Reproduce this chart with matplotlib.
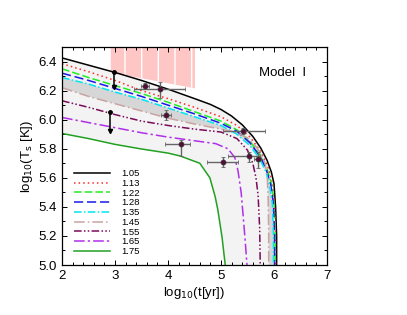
import numpy as np
import matplotlib
matplotlib.use('Agg')
import matplotlib.pyplot as plt
from matplotlib.ticker import MultipleLocator

plt.rcParams['font.family'] = ['Liberation Sans', 'DejaVu Sans']

# cooling curves, log10(t[yr]) vs log10(Ts[K])
labels = ['1.05', '1.13', '1.22', '1.28', '1.35', '1.45', '1.55', '1.65', '1.75']

t_105 = [2.0, 2.5, 3.0, 3.5, 4.0, 4.5, 4.8, 5.0, 5.2, 5.4, 5.6, 5.75, 5.87, 5.95, 6.0, 6.03, 6.05, 6.05]
T_105 = [6.425, 6.375, 6.325, 6.27, 6.21, 6.145, 6.105, 6.07, 6.025, 5.965, 5.885, 5.805, 5.72, 5.64, 5.56, 5.40, 5.20, 5.00]

t_113 = [2.0, 2.5, 3.0, 3.5, 4.0, 4.5, 5.0, 5.3, 5.55, 5.75, 5.88, 5.96, 6.01, 6.03, 6.03]
T_113 = [6.385, 6.33, 6.27, 6.20, 6.145, 6.085, 6.02, 5.96, 5.88, 5.78, 5.68, 5.58, 5.42, 5.20, 5.00]

t_122 = [2.0, 2.5, 3.0, 3.5, 4.0, 4.5, 5.0, 5.3, 5.55, 5.75, 5.87, 5.95, 6.0, 6.02, 6.02]
T_122 = [6.35, 6.29, 6.235, 6.18, 6.12, 6.055, 5.99, 5.93, 5.85, 5.75, 5.66, 5.56, 5.42, 5.20, 5.00]

t_128 = [2.0, 2.5, 3.0, 3.5, 4.0, 4.5, 5.0, 5.3, 5.55, 5.75, 5.86, 5.94, 5.99, 6.01, 6.01]
T_128 = [6.32, 6.27, 6.215, 6.16, 6.10, 6.04, 5.975, 5.92, 5.84, 5.74, 5.65, 5.55, 5.42, 5.20, 5.00]

t_135 = [2.0, 2.5, 3.0, 3.5, 4.0, 4.5, 5.0, 5.3, 5.55, 5.73, 5.85, 5.92, 5.97, 5.99, 5.99]
T_135 = [6.29, 6.245, 6.19, 6.14, 6.08, 6.02, 5.96, 5.90, 5.82, 5.73, 5.64, 5.54, 5.42, 5.20, 5.00]

t_145 = [2.0, 2.5, 3.0, 3.5, 4.0, 4.5, 5.0, 5.3, 5.5, 5.65, 5.75, 5.83, 5.87, 5.89, 5.9, 5.9]
T_145 = [6.22, 6.16, 6.11, 6.06, 6.01, 5.97, 5.935, 5.91, 5.875, 5.82, 5.77, 5.70, 5.63, 5.45, 5.20, 5.00]

t_155 = [2.0, 2.5, 3.0, 3.5, 4.0, 4.5, 5.0, 5.3, 5.5, 5.6, 5.66, 5.70, 5.73, 5.74]
T_155 = [6.13, 6.085, 6.035, 5.99, 5.96, 5.935, 5.915, 5.87, 5.79, 5.70, 5.60, 5.48, 5.25, 5.00]

t_165 = [2.0, 2.5, 3.0, 3.5, 4.0, 4.5, 4.9, 5.13, 5.26, 5.32, 5.38, 5.42, 5.46, 5.49]
T_165 = [6.015, 5.98, 5.945, 5.91, 5.88, 5.855, 5.835, 5.80, 5.74, 5.65, 5.50, 5.33, 5.15, 5.00]

t_175 = [2.0, 2.5, 3.0, 3.47, 4.0, 4.23, 4.6, 4.79, 4.89, 4.94, 5.02, 5.08]
T_175 = [5.905, 5.87, 5.83, 5.80, 5.77, 5.75, 5.70, 5.60, 5.47, 5.38, 5.19, 5.00]

curves_t = [t_105, t_113, t_122, t_128, t_135, t_145, t_155, t_165, t_175]
curves_T = [T_105, T_113, T_122, T_128, T_135, T_145, T_155, T_165, T_175]

colors = ['black', '#ff2a2a', '#22ee22', '#1a1ae6', '#00e6f0', '#c9a3a3', '#7a0a5a', '#b030e8', '#22a022']
styles = ['-', (0, (1, 2)), (0, (5, 2)), (0, (6, 2.5)), (0, (5, 1.5, 1, 1.5)),
          (0, (7, 2, 1, 2)), (0, (5, 1.5, 1, 1.5, 1, 1.5)), (0, (7, 2, 1.5, 2)), '-']

# observations with error bars
obs_t = [3.57, 3.85, 3.96, 4.25, 5.42, 5.03, 5.53, 5.69]
obs_T = [6.23, 6.21, 6.03, 5.83, 5.92, 5.71, 5.75, 5.73]
obs_t_lo = [0.08, 0.49, 0.10, 0.30, 0.39, 0.30, 0.40, 0.06]
obs_t_hi = [0.08, 0.47, 0.10, 0.17, 0.41, 0.30, 0.21, 0.06]
obs_T_lo = [0.02, 0.06, 0.035, 0.08, 0.02, 0.035, 0.04, 0.06]
obs_T_hi = [0.02, 0.05, 0.035, 0.03, 0.02, 0.035, 0.03, 0.05]

# temperature ranges (vertical bars)
range_t = [2.99, 2.91]
range_T_top = [6.325, 6.05]
range_T_bot = [6.226, 5.925]

# pink excluded region
pink_t = [2.92, 4.51]
pink_T_bot = [6.325, 6.215]

fig = plt.figure(figsize=(4.07, 3.15), dpi=100)
ax = fig.add_axes([62 / 407, 50 / 315, 265 / 407, 218 / 315])

# light band between 1.05 and 1.75 curves
ax.fill(np.concatenate([t_105, t_175[::-1]]), np.concatenate([T_105, T_175[::-1]]),
        color='#f3f3f3', lw=0, zorder=0)
# darker band between 1.35 and 1.45 curves
ax.fill(np.concatenate([t_135, t_145[::-1]]), np.concatenate([T_135, T_145[::-1]]),
        color='#d6d6d6', lw=0, zorder=0.5)

ax.fill_between(pink_t, pink_T_bot, 6.5, facecolor='#ffc6c6', edgecolor='white',
                hatch='|', lw=0, zorder=0.6)

for t, T, c, ls, lab in zip(curves_t, curves_T, colors, styles, labels):
    ax.plot(t, T, color=c, ls=ls, lw=1.1, label=lab, zorder=2)

ax.errorbar(obs_t, obs_T, xerr=[obs_t_lo, obs_t_hi], yerr=[obs_T_lo, obs_T_hi],
            fmt='o', ms=3.5, mfc='#5a0a3a', mec='#303030', mew=0.6,
            ecolor='#666666', elinewidth=1.0, capsize=1.5, zorder=4)

for x, top, bot in zip(range_t, range_T_top, range_T_bot):
    ax.plot([x, x], [top, bot], color='black', lw=1.1, zorder=4)
    ax.plot([x], [top], marker='o', ms=2.5, color='black', zorder=4)
    ax.plot([x], [bot], marker='v', ms=3, color='black', zorder=4)

ax.text(5.72, 6.32, 'Model  I', fontsize=9.5, va='center', ha='left')

ax.set_xlim(2, 7)
ax.set_ylim(5.0, 6.5)
ax.xaxis.set_major_locator(MultipleLocator(1))
ax.xaxis.set_minor_locator(MultipleLocator(0.2))
ax.yaxis.set_major_locator(MultipleLocator(0.2))
ax.yaxis.set_minor_locator(MultipleLocator(0.1))
ax.tick_params(which='both', direction='in', top=True, right=True, labelsize=9.5, width=0.7)
ax.tick_params(which='major', length=3.5)
ax.tick_params(which='minor', length=2.2)
for s in ax.spines.values():
    s.set_linewidth(0.9)

ax.set_xlabel(r'log$_{10}$(t[yr])', fontsize=9.5, labelpad=2)
ax.set_ylabel(r'log$_{10}$(T$_{\rm s}$ [K])', fontsize=9.5, labelpad=3)

ax.legend(loc='upper left', bbox_to_anchor=(0.045, 0.44), frameon=False, fontsize=6.8,
          handlelength=3.8, handletextpad=1.2, labelspacing=0.08, borderpad=0, borderaxespad=0)

fig.savefig('out.png', dpi=100)
